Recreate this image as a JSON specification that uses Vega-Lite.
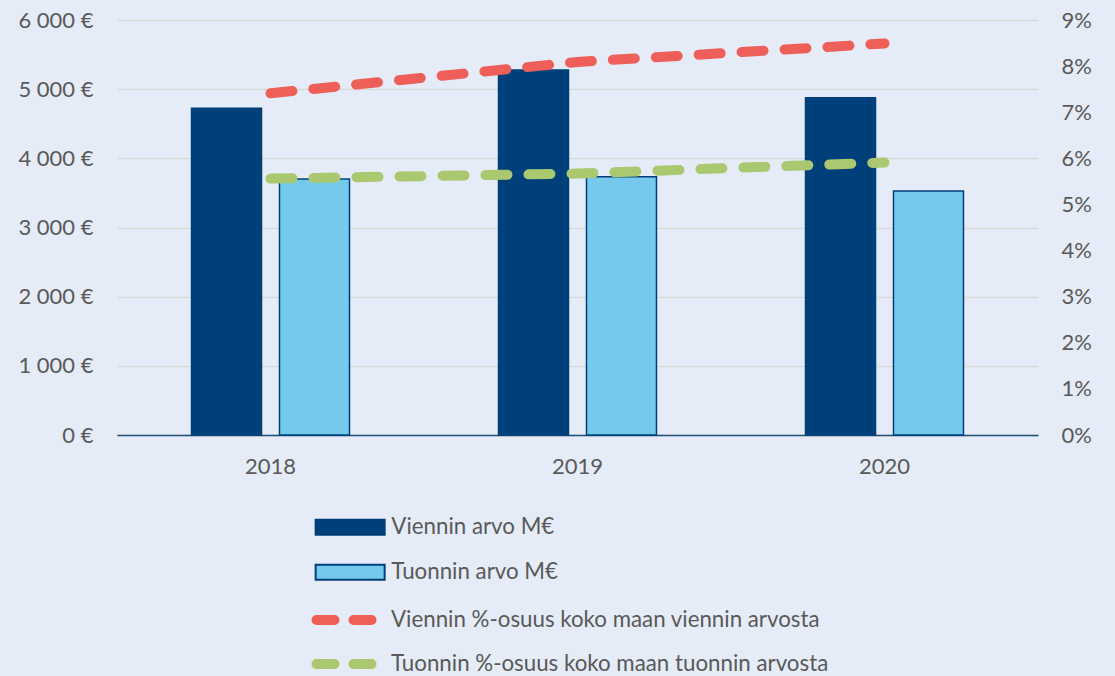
{
  "$schema": "https://vega.github.io/schema/vega-lite/v6.json",
  "width": 921,
  "height": 415,
  "autosize": {"type": "none"},
  "padding": {"left": 117, "top": 20, "right": 77, "bottom": 241},
  "background": "#e5ecf7",
  "config": {
    "view": {"stroke": null},
    "font": "Lato",
    "axis": {"labelFont": "Lato", "labelFontSize": 22, "labelColor": "#595959", "ticks": false},
    "legend": {"labelFont": "Lato", "labelFontSize": 22.3, "labelColor": "#595959", "labelLimit": 800}
  },
  "datasets": {
    "bars": [
      {"vuosi": "2018", "sarja": "Viennin arvo M€", "arvo": 4725},
      {"vuosi": "2018", "sarja": "Tuonnin arvo M€", "arvo": 3700},
      {"vuosi": "2019", "sarja": "Viennin arvo M€", "arvo": 5277},
      {"vuosi": "2019", "sarja": "Tuonnin arvo M€", "arvo": 3733},
      {"vuosi": "2020", "sarja": "Viennin arvo M€", "arvo": 4877},
      {"vuosi": "2020", "sarja": "Tuonnin arvo M€", "arvo": 3528}
    ],
    "lines": [
      {"vuosi": "2018", "sarja": "Viennin %-osuus koko maan viennin arvosta", "osuus": 7.41},
      {"vuosi": "2019", "sarja": "Viennin %-osuus koko maan viennin arvosta", "osuus": 8.09},
      {"vuosi": "2020", "sarja": "Viennin %-osuus koko maan viennin arvosta", "osuus": 8.49},
      {"vuosi": "2018", "sarja": "Tuonnin %-osuus koko maan tuonnin arvosta", "osuus": 5.56},
      {"vuosi": "2019", "sarja": "Tuonnin %-osuus koko maan tuonnin arvosta", "osuus": 5.67},
      {"vuosi": "2020", "sarja": "Tuonnin %-osuus koko maan tuonnin arvosta", "osuus": 5.91}
    ]
  },
  "layer": [
    {
      "data": {"name": "bars"},
      "mark": {"type": "bar", "strokeWidth": 1.5},
      "encoding": {
        "x": {
          "field": "vuosi", "type": "nominal", "title": null,
          "scale": {"paddingInner": 0, "paddingOuter": 0},
          "axis": {"labelAngle": 0, "labelPadding": 21, "domainColor": "#1f4e79", "domainWidth": 1.5}
        },
        "xOffset": {
          "field": "sarja", "type": "nominal",
          "scale": {"domain": ["Viennin arvo M€", "Tuonnin arvo M€"], "paddingInner": 0.2045, "paddingOuter": 0.847}
        },
        "y": {
          "field": "arvo", "type": "quantitative", "title": null,
          "scale": {"domain": [0, 6000], "nice": false},
          "axis": {
            "values": [0, 1000, 2000, 3000, 4000, 5000, 6000],
            "labelExpr": "replace(format(datum.value, ','), ',', ' ') + ' €'",
            "domain": false, "grid": true, "gridColor": "#d9d9d9", "gridWidth": 1.5, "labelPadding": 24
          }
        },
        "fill": {
          "field": "sarja", "type": "nominal",
          "scale": {"domain": ["Viennin arvo M€", "Tuonnin arvo M€"], "range": ["#00407a", "#75caec"]},
          "legend": {
            "title": null, "orient": "none", "legendX": 222, "legendY": 496, "padding": 0,
            "symbolType": "M-3.45,-0.75H3.45V0.75H-3.45Z", "symbolSize": 400, "symbolStrokeWidth": 2,
            "labelOffset": 30, "rowPadding": 21
          }
        },
        "stroke": {
          "field": "sarja", "type": "nominal",
          "scale": {"domain": ["Viennin arvo M€", "Tuonnin arvo M€"], "range": ["#00407a", "#003f7c"]},
          "legend": {
            "title": null, "orient": "none", "legendX": 222, "legendY": 496, "padding": 0,
            "symbolType": "M-3.45,-0.75H3.45V0.75H-3.45Z", "symbolSize": 400, "symbolStrokeWidth": 2,
            "labelOffset": 30, "rowPadding": 21
          }
        }
      }
    },
    {
      "data": {"name": "lines"},
      "mark": {"type": "line", "strokeWidth": 10, "strokeDash": [22, 21], "strokeCap": "round"},
      "encoding": {
        "x": {"field": "vuosi", "type": "nominal"},
        "y": {
          "field": "osuus", "type": "quantitative", "title": null,
          "scale": {"domain": [0, 9], "nice": false},
          "axis": {
            "orient": "right", "values": [0, 1, 2, 3, 4, 5, 6, 7, 8, 9],
            "labelExpr": "datum.value + '%'", "domain": false, "grid": false, "labelPadding": 23
          }
        },
        "color": {
          "field": "sarja", "type": "nominal",
          "scale": {
            "domain": ["Viennin %-osuus koko maan viennin arvosta", "Tuonnin %-osuus koko maan tuonnin arvosta"],
            "range": ["#ee5f5a", "#a9c86f"]
          },
          "legend": {
            "title": null, "orient": "none", "legendX": 222, "legendY": 585, "padding": 0,
            "symbolType": "M-3.75,0H1.75", "symbolSize": 400, "symbolStrokeWidth": 10, "symbolDash": [18, 19],
            "labelOffset": 22, "rowPadding": 4,
            "encode": {"symbols": {"update": {"strokeCap": {"value": "round"}}}}
          }
        },
        "order": {"field": "vuosi"}
      }
    }
  ],
  "resolve": {"scale": {"y": "independent"}}
}
